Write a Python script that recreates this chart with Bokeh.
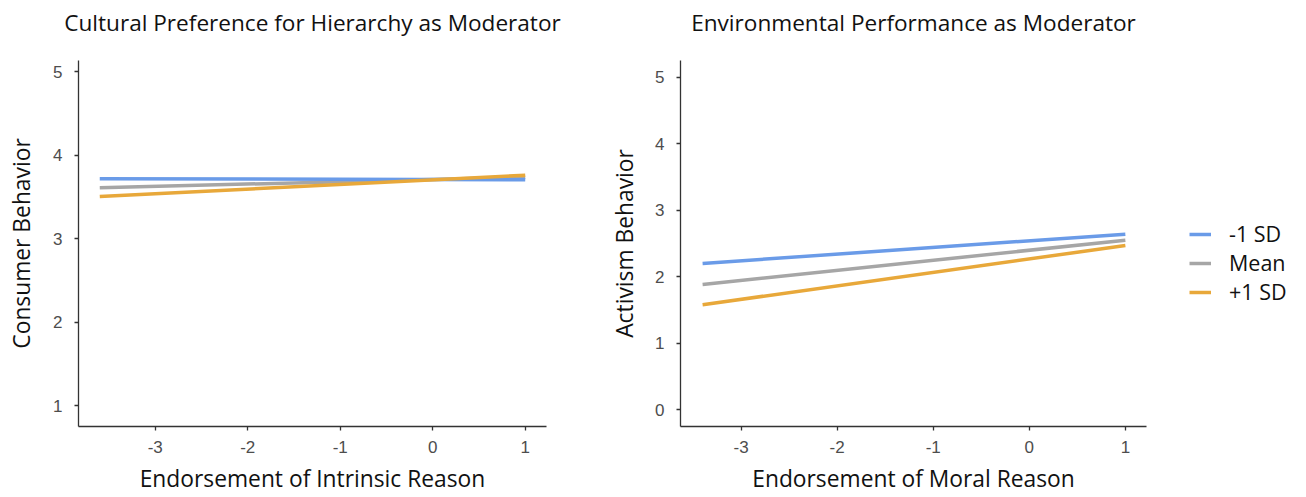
from bokeh.plotting import figure
from bokeh.layouts import row
from bokeh.models import Range1d, FixedTicker, Legend, LegendItem, LinearAxis
from bokeh.embed import file_html
from bokeh.resources import INLINE

# ---- data ----
left_x = [-3.6, 1.0]
left_low = [3.717, 3.705]
left_mean = [3.61, 3.735]
left_high = [3.505, 3.76]

right_x = [-3.4, 1.0]
right_low = [2.20, 2.64]
right_mean = [1.885, 2.55]
right_high = [1.58, 2.47]

x_ticks = [-3, -2, -1, 0, 1]
x_tick_labels = ["-3", "-2", "-1", "0", "1"]
left_y_ticks = [1, 2, 3, 4, 5]
right_y_ticks = [0, 1, 2, 3, 4, 5]
series_names = ["-1 SD", "Mean", "+1 SD"]
colors = ["#6A9BE8", "#A6A6A6", "#E8A83A"]
titles = ["Cultural Preference for Hierarchy as Moderator", "Environmental Performance as Moderator"]

TEXT_FONT = "Open Sans"
TICK_FONT = "Liberation Sans"


def add_title(p, text, standoff):
    # panel title drawn as the label of an empty axis above the frame
    t = LinearAxis(ticker=FixedTicker(ticks=[]), axis_label=text)
    t.axis_line_color = None
    t.major_tick_line_color = None
    t.minor_tick_line_color = None
    t.major_tick_out = 0
    t.major_tick_in = 0
    t.major_label_standoff = 0
    t.axis_label_standoff = standoff
    t.axis_label_text_font = TEXT_FONT
    t.axis_label_text_font_size = "22.6px"
    t.axis_label_text_font_style = "normal"
    t.axis_label_text_color = "#111111"
    p.add_layout(t, "above")


def style(p, yticks, ylab_standoff):
    p.outline_line_color = None
    p.xgrid.grid_line_color = None
    p.ygrid.grid_line_color = None
    p.background_fill_color = "white"
    p.border_fill_color = "white"
    p.xaxis.ticker = FixedTicker(ticks=x_ticks)
    p.xaxis.major_label_overrides = dict(zip(x_ticks, x_tick_labels))
    p.yaxis.ticker = FixedTicker(ticks=yticks)
    for ax in (p.xaxis[0], p.yaxis[0]):
        ax.axis_line_color = "#333333"
        ax.axis_line_width = 1.3
        ax.major_tick_line_color = "#333333"
        ax.major_tick_line_width = 1.3
        ax.major_tick_out = 4
        ax.major_tick_in = 0
        ax.minor_tick_line_color = None
        ax.major_label_text_font = TICK_FONT
        ax.major_label_text_font_size = "17px"
        ax.major_label_text_color = "#4D4D4D"
        ax.axis_label_text_font = TEXT_FONT
        ax.axis_label_text_font_size = "22.8px"
        ax.axis_label_text_font_style = "normal"
        ax.axis_label_text_color = "#111111"
    p.xaxis.major_label_standoff = 10
    p.yaxis.major_label_standoff = 12
    p.xaxis.axis_label_standoff = 7
    p.yaxis.axis_label_standoff = ylab_standoff


# ---- left panel ----
p1 = figure(frame_width=468, frame_height=366, min_border_left=78, min_border_right=59,
            min_border_top=60, min_border_bottom=71,
            x_range=Range1d(-3.83, 1.23), y_range=Range1d(0.752, 5.132),
            x_axis_label="Endorsement of Intrinsic Reason", y_axis_label="Consumer Behavior",
            output_backend="svg", toolbar_location=None)
style(p1, left_y_ticks, 13)
add_title(p1, titles[0], 23)
for ys, c in zip([left_mean, left_low, left_high], [colors[1], colors[0], colors[2]]):
    p1.line(left_x, ys, line_color=c, line_width=3.5)

# ---- right panel ----
p2 = figure(frame_width=466, frame_height=366, min_border_left=75, min_border_right=160,
            min_border_top=60, min_border_bottom=71,
            x_range=Range1d(-3.63, 1.22), y_range=Range1d(-0.25, 5.25),
            x_axis_label="Endorsement of Moral Reason", y_axis_label="Activism Behavior",
            output_backend="svg", toolbar_location=None)
style(p2, right_y_ticks, 12)
add_title(p2, titles[1], 23)
renderers = []
for ys, c in zip([right_low, right_mean, right_high], colors):
    renderers.append(p2.line(right_x, ys, line_color=c, line_width=3.5))

legend = Legend(items=[LegendItem(label=n, renderers=[r]) for n, r in zip(series_names, renderers)],
                location=(43, 120), orientation="vertical")
legend.border_line_color = None
legend.background_fill_alpha = 0
legend.padding = 0
legend.margin = 10
legend.spacing = 0
legend.glyph_width = 22
legend.glyph_height = 20
legend.label_height = 20
legend.label_standoff = 18
legend.label_text_font = TEXT_FONT
legend.label_text_font_size = "21.5px"
legend.label_text_color = "#111111"
legend.label_text_baseline = "middle"
p2.add_layout(legend, "right")

layout = row(p1, p2)
with open("out.html", "w") as f:
    f.write(file_html(layout, INLINE))
